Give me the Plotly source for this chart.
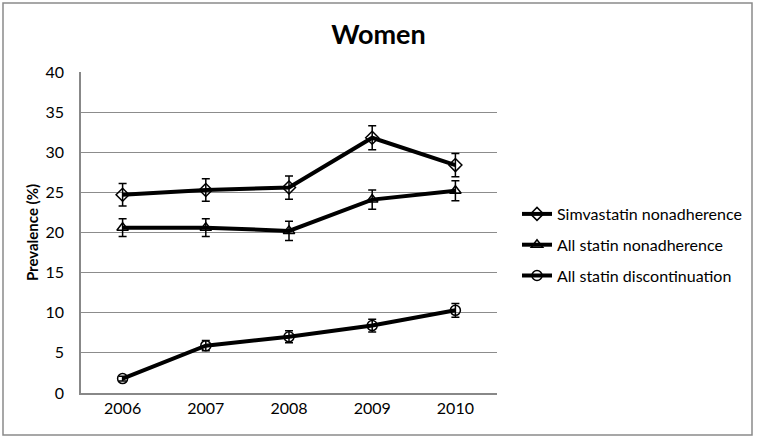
import plotly.graph_objects as go

years = ["2006", "2007", "2008", "2009", "2010"]
simva = [24.7, 25.3, 25.6, 31.8, 28.4]
simva_err = [1.4, 1.4, 1.45, 1.5, 1.45]
allnon = [20.6, 20.6, 20.2, 24.1, 25.2]
allnon_err = [1.1, 1.1, 1.2, 1.2, 1.25]
disc = [1.8, 5.9, 7.0, 8.4, 10.3]
disc_err = [0.3, 0.65, 0.75, 0.8, 0.85]
names = ["Simvastatin nonadherence", "All statin nonadherence", "All statin discontinuation"]
symbols = ["diamond-open", "triangle-up-open", "circle-open"]

fig = go.Figure()
for i, (vals, errs) in enumerate([(simva, simva_err), (allnon, allnon_err), (disc, disc_err)]):
    fig.add_trace(go.Scatter(
        x=years, y=vals, name=names[i], mode="lines+markers",
        legendgroup=str(i),
        line=dict(color="black", width=4),
        marker=dict(symbol=symbols[i], size=10, color="black", line=dict(width=1.5, color="black")),
        error_y=dict(type="data", array=errs, visible=True, color="black", thickness=1.5, width=4),
    ))

L, T, R, B = 81, 72, 497, 393
W, H = 757, 438
pw, ph = R - L, B - T

fig.update_layout(
    width=W, height=H,
    margin=dict(l=L, r=W - R, t=T, b=H - B, autoexpand=False),
    paper_bgcolor="white", plot_bgcolor="white",
    font=dict(family="Lato, Open Sans, sans-serif", color="black", size=16),
    title=dict(text="<b>Women</b>", x=0.5, xanchor="center", y=1 - 35 / H, yanchor="middle",
               font=dict(size=27, color="black")),
    xaxis=dict(showgrid=False, showline=True, linecolor="#888888", linewidth=1.5,
               ticks="", tickfont=dict(size=16), range=[-0.5, 4.5]),
    yaxis=dict(range=[0, 40], dtick=5, showgrid=True, gridcolor="#8c8c8c", gridwidth=1.2,
               showline=True, linecolor="#888888", linewidth=1.5, ticks="",
               ticklabelstandoff=12, tickfont=dict(size=16), zeroline=False,
               title=dict(text="<b>Prevalence (%)</b>", font=dict(size=15), standoff=3)),
    legend=dict(x=(517 - L) / pw, xanchor="left", y=(B - 245) / ph, yanchor="middle",
                font=dict(size=16), tracegroupgap=7, traceorder="grouped",
                bgcolor="rgba(0,0,0,0)"),
    showlegend=True,
)

fig.add_shape(type="rect", xref="paper", yref="paper",
              x0=(3 - L) / pw, x1=(752 - L) / pw, y0=(B - 435) / ph, y1=(B - 3) / ph,
              line=dict(color="#8a8a8a", width=1.5), fillcolor="rgba(0,0,0,0)", layer="below")

fig.write_html("out.html", config={"displayModeBar": False},
               post_script="document.body.style.margin='0';document.body.style.overflow='hidden';")
